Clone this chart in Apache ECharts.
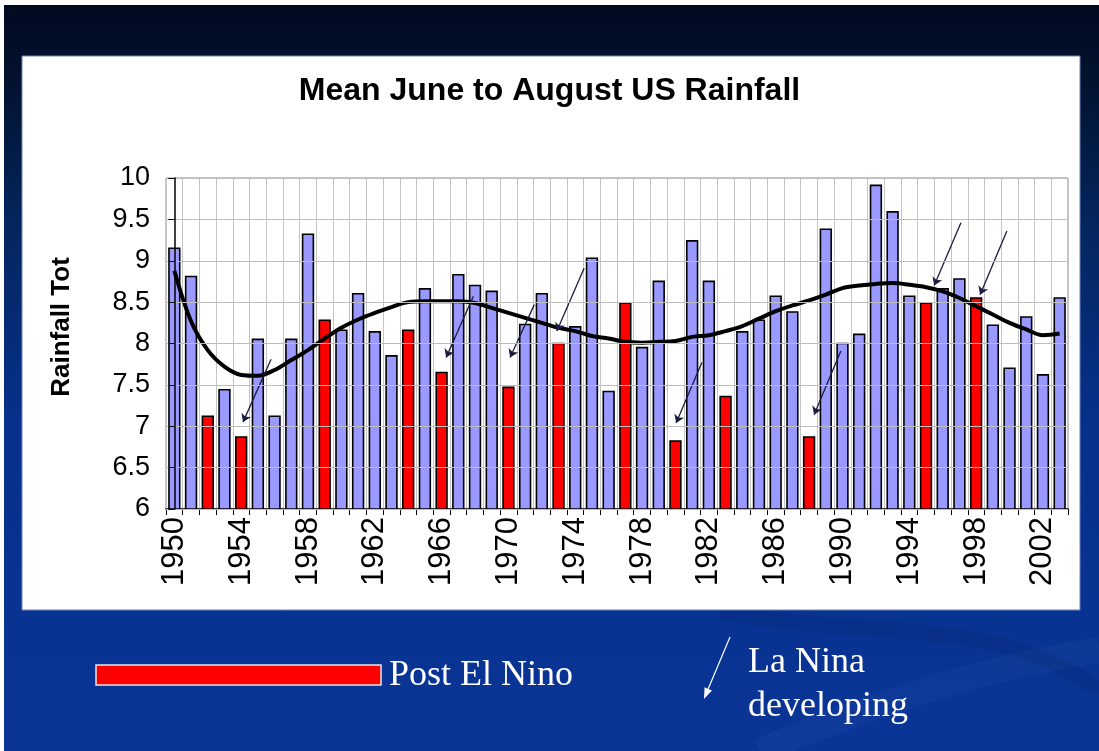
<!DOCTYPE html>
<html>
<head>
<meta charset="utf-8">
<script src="https://cdn.jsdelivr.net/npm/echarts@6/dist/echarts.min.js"></script>
<style>
  html, body { margin: 0; padding: 0; background: #ffffff; }
  #chart { width: 1099px; height: 751px; }
</style>
</head>
<body>
<div id="chart"></div>
<script>
// Summer (June-August) mean US rainfall, 1950-2003
const years = [
  '1950','1951','1952','1953','1954','1955','1956','1957','1958','1959',
  '1960','1961','1962','1963','1964','1965','1966','1967','1968','1969',
  '1970','1971','1972','1973','1974','1975','1976','1977','1978','1979',
  '1980','1981','1982','1983','1984','1985','1986','1987','1988','1989',
  '1990','1991','1992','1993','1994','1995','1996','1997','1998','1999',
  '2000','2001','2002','2003'
];

const rainfall = [
  9.16, 8.82, 7.13, 7.45, 6.88, 8.06, 7.13, 8.06, 9.33, 8.29,
  8.17, 8.61, 8.15, 7.86, 8.17, 8.67, 7.66, 8.84, 8.71, 8.64,
  7.48, 8.24, 8.61, 8.01, 8.21, 9.04, 7.43, 8.50, 7.96, 8.76,
  6.83, 9.25, 8.76, 7.37, 8.15, 8.29, 8.58, 8.39, 6.88, 9.39,
  8.01, 8.12, 9.92, 9.60, 8.58, 8.50, 8.67, 8.79, 8.56, 8.23,
  7.71, 8.33, 7.63, 8.56
];

// Smoothed trend through the yearly totals
const trend = [
  8.88, 8.27, 7.92, 7.72, 7.62, 7.61, 7.68, 7.80, 7.92, 8.06,
  8.19, 8.29, 8.37, 8.44, 8.50, 8.51, 8.51, 8.51, 8.49, 8.43,
  8.37, 8.31, 8.25, 8.19, 8.15, 8.09, 8.06, 8.02, 8.01, 8.02,
  8.03, 8.08, 8.10, 8.15, 8.21, 8.30, 8.39, 8.46, 8.52, 8.59,
  8.67, 8.70, 8.72, 8.73, 8.71, 8.68, 8.63, 8.55, 8.45, 8.35,
  8.25, 8.17, 8.10, 8.12
];

// Summers following an El Nino
const postElNinoYears = ['1952','1954','1959','1964','1966','1970','1973','1977','1980','1983','1988','1995','1998'];

// "La Nina developing" pointers: [[yearIndexFrom, valueFrom], [yearIndexTo, valueTo]]
const laNinaArrows = [
  [[5.79, 7.81], [4.11, 7.05]],
  [[17.90, 8.57], [16.27, 7.83]],
  [[21.55, 8.47], [20.10, 7.83]],
  [[24.53, 8.91], [22.90, 8.15]],
  [[31.58, 7.77], [30.04, 7.04]],
  [[39.90, 7.91], [38.30, 7.14]],
  [[47.09, 9.46], [45.49, 8.70]],
  [[49.84, 9.36], [48.24, 8.59]]
];

const chart = echarts.init(document.getElementById('chart'), null, { renderer: 'canvas' });

const SANS = '"Liberation Sans", Arial, sans-serif';
const SERIF = '"Liberation Serif", "Times New Roman", serif';

const barData = rainfall.map((v, i) => ({
  value: v,
  itemStyle: { color: postElNinoYears.includes(years[i]) ? '#ff0000' : '#9999ff' }
}));

// white arrow beside the legend text
const tip = [704, 699], tail = [730, 637];
const dx = tip[0] - tail[0], dy = tip[1] - tail[1];
const len = Math.hypot(dx, dy), ux = dx / len, uy = dy / len;
const base = [tip[0] - 11 * ux, tip[1] - 11 * uy];
const head = [tip, [base[0] + 4 * uy, base[1] - 4 * ux], [base[0] - 4 * uy, base[1] + 4 * ux]];

chart.setOption({
  animation: false,
  backgroundColor: 'transparent',
  title: {
    text: 'Mean June to August US Rainfall',
    left: 'center',
    top: 70,
    textStyle: { fontFamily: SANS, fontSize: 32, fontWeight: 'bold', color: '#000' }
  },
  grid: {
    left: 166, right: 31, top: 178, bottom: 242,
    show: true, borderColor: '#8c8c8c', borderWidth: 1, backgroundColor: 'transparent'
  },
  xAxis: [
    {
      type: 'category',
      data: years,
      boundaryGap: true,
      axisLine: { lineStyle: { color: '#000', width: 1.5 } },
      axisTick: { show: true, interval: 0, length: 6, lineStyle: { color: '#000' } },
      axisLabel: {
        interval: 3, rotate: 90, margin: 8,
        fontFamily: SANS, fontSize: 31, color: '#000'
      },
      splitLine: { show: true, interval: 0, lineStyle: { color: '#c4c4c4', width: 1 } }
    },
    { type: 'value', min: -0.5, max: 53.5, show: false }
  ],
  yAxis: {
    type: 'value',
    min: 6, max: 10, interval: 0.5,
    axisLine: { show: true, lineStyle: { color: '#000', width: 1.5 } },
    axisTick: { show: true, length: 6, lineStyle: { color: '#000' } },
    axisLabel: { margin: 16, fontFamily: SANS, fontSize: 27, color: '#000' },
    splitLine: { show: true, lineStyle: { color: '#bdbdbd', width: 1 } },
    z: 5
  },
  series: [
    {
      type: 'bar',
      data: barData,
      barCategoryGap: '26%',
      itemStyle: { borderColor: '#000', borderWidth: 1.6 },
      z: 2
    },
    {
      type: 'line',
      data: trend,
      smooth: 0.35,
      symbol: 'none',
      lineStyle: { color: '#000', width: 4 },
      z: 3
    },
    {
      type: 'lines',
      coordinateSystem: 'cartesian2d',
      xAxisIndex: 1,
      yAxisIndex: 0,
      symbol: ['none', 'arrow'],
      symbolSize: 8,
      lineStyle: { color: '#1c1c40', width: 1.3, opacity: 1 },
      data: laNinaArrows.map(c => ({ coords: c })),
      z: 4
    }
  ],
  graphic: [
    {
      type: 'rect', z: -20, silent: true,
      shape: { x: 4, y: 5, width: 1095, height: 746 },
      style: {
        fill: new echarts.graphic.LinearGradient(0, 0, 0, 1, [
          { offset: 0, color: '#010a20' },
          { offset: 0.1, color: '#02122f' },
          { offset: 0.3, color: '#04265f' },
          { offset: 0.55, color: '#06308a' },
          { offset: 1, color: '#0a3597' }
        ])
      }
    },
    {
      type: 'bezierCurve', z: -19, silent: true,
      shape: { x1: 760, y1: 751, x2: 1099, y2: 650, cpx1: 880, cpy1: 700, cpx2: 1000, cpy2: 665 },
      style: { stroke: 'rgba(120,150,220,0.06)', lineWidth: 26, fill: null }
    },
    {
      type: 'bezierCurve', z: -19, silent: true,
      shape: { x1: 720, y1: 612, x2: 1099, y2: 690, cpx1: 870, cpy1: 640, cpx2: 1000, cpy2: 615 },
      style: { stroke: 'rgba(0,20,70,0.10)', lineWidth: 16, fill: null }
    },
    {
      type: 'rect', z: -18, silent: true,
      shape: { x: 22, y: 56, width: 1058, height: 554 },
      style: { fill: '#ffffff', stroke: '#6f86b8', lineWidth: 1 }
    },
    {
      type: 'text', z: 10,
      x: 62, y: 327, rotation: Math.PI / 2,
      style: {
        text: 'Rainfall Tot', fontFamily: SANS, fontSize: 26, fontWeight: 'bold',
        fill: '#000', align: 'center', verticalAlign: 'middle'
      }
    },
    {
      type: 'rect', z: 10,
      shape: { x: 96, y: 665, width: 285, height: 20 },
      style: { fill: '#ff0000', stroke: '#e8e8e8', lineWidth: 1.5 }
    },
    {
      type: 'text', z: 10, x: 389, y: 676,
      style: { text: 'Post El Nino', fontFamily: SERIF, fontSize: 36, fill: '#ffffff', align: 'left', verticalAlign: 'middle' }
    },
    {
      type: 'line', z: 10,
      shape: { x1: tail[0], y1: tail[1], x2: base[0], y2: base[1] },
      style: { stroke: '#ffffff', lineWidth: 1.2 }
    },
    {
      type: 'polygon', z: 10,
      shape: { points: head },
      style: { fill: '#ffffff' }
    },
    {
      type: 'text', z: 10, x: 748, y: 663,
      style: { text: 'La Nina', fontFamily: SERIF, fontSize: 36, fill: '#ffffff', align: 'left', verticalAlign: 'middle' }
    },
    {
      type: 'text', z: 10, x: 748, y: 707,
      style: { text: 'developing', fontFamily: SERIF, fontSize: 36, fill: '#ffffff', align: 'left', verticalAlign: 'middle' }
    }
  ]
});
</script>
</body>
</html>
